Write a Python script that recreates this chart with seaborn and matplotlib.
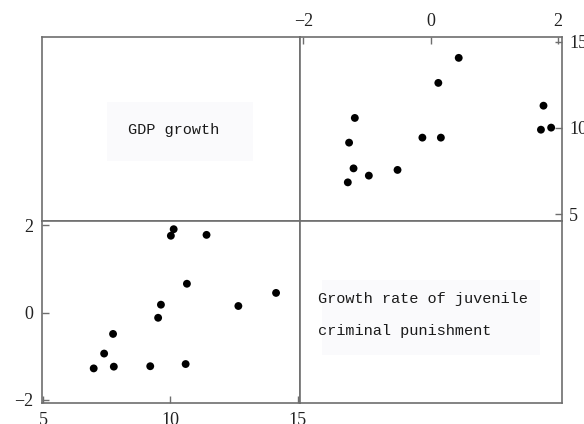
import matplotlib
matplotlib.use("Agg")
import matplotlib.pyplot as plt
import seaborn as sns
import pandas as pd
from matplotlib.patches import Rectangle

# Upper-right panel: juvenile punishment growth (x) vs GDP growth (y)
juv_upper = [0.44, 0.12, -1.19, -1.28, -1.21, -0.97, -1.30, -0.52, -0.13, 0.16, 1.77, 1.73, 1.89]
gdp_upper = [14.06, 12.61, 10.58, 9.15, 7.66, 7.24, 6.85, 7.57, 9.44, 9.44, 11.29, 9.90, 10.02]

# Lower-left panel: GDP growth (x) vs juvenile punishment growth (y)
gdp_lower = [10.13, 10.02, 11.42, 10.65, 14.15, 12.67, 9.63, 9.52, 7.75, 7.40, 6.99, 7.78, 9.21, 10.60]
juv_lower = [1.91, 1.76, 1.78, 0.66, 0.45, 0.15, 0.18, -0.12, -0.49, -0.94, -1.28, -1.24, -1.23, -1.18]

gdp_ticks = [5, 10, 15]
juv_ticks = [-2, 0, 2]

label_gdp = "GDP growth"
label_juv = ["Growth rate of juvenile", "criminal punishment"]

sns.set_theme(style="white")
plt.rcParams["axes.unicode_minus"] = True

frame_col = "#6e6e6e"
tick_font = {"family": "Liberation Serif", "size": 13}
mono = "Liberation Mono"
cell_fill = "#fafafc"

fig = plt.figure(figsize=(5.84, 4.24), dpi=100)
fig.patch.set_facecolor("white")

L, M, R = 0.0719, 0.5137, 0.9623
B, H, T = 0.0488, 0.4795, 0.912
ax_tl = fig.add_axes([L, H, M - L, T - H])
ax_tr = fig.add_axes([M, H, R - M, T - H])
ax_bl = fig.add_axes([L, B, M - L, H - B])
ax_br = fig.add_axes([M, B, R - M, H - B])

for ax in (ax_tl, ax_tr, ax_bl, ax_br):
    ax.set_facecolor("white")
    for s in ax.spines.values():
        s.set_visible(True)
        s.set_color(frame_col)
        s.set_linewidth(1.2)

for ax in (ax_tl, ax_br):
    ax.set_xticks([])
    ax.set_yticks([])

df_up = pd.DataFrame({"juv": juv_upper, "gdp": gdp_upper})
df_lo = pd.DataFrame({"gdp": gdp_lower, "juv": juv_lower})

sns.scatterplot(data=df_up, x="juv", y="gdp", ax=ax_tr, color="black",
                s=32, edgecolor="none", linewidth=0)
sns.scatterplot(data=df_lo, x="gdp", y="juv", ax=ax_bl, color="black",
                s=32, edgecolor="none", linewidth=0)

ax_tr.set_xlim(-2.05, 2.06)
ax_tr.set_ylim(4.63, 15.25)
ax_tr.set_xticks(juv_ticks)
ax_tr.set_yticks(gdp_ticks)
ax_tr.xaxis.tick_top()
ax_tr.yaxis.tick_right()
ax_tr.tick_params(axis="both", direction="in", length=5, width=1, color=frame_col,
                  pad=5, top=True, right=True, bottom=False, left=False,
                  labeltop=True, labelright=True, labelbottom=False, labelleft=False)

ax_bl.set_xlim(4.96, 15.09)
ax_bl.set_ylim(-2.08, 2.105)
ax_bl.set_xticks(gdp_ticks)
ax_bl.set_yticks(juv_ticks)
ax_bl.tick_params(axis="both", direction="in", length=5, width=1, color=frame_col,
                  pad=6, bottom=True, left=True, top=False, right=False)

for ax in (ax_tr, ax_bl):
    ax.set_xlabel("")
    ax.set_ylabel("")
    for lab in ax.get_xticklabels() + ax.get_yticklabels():
        lab.set_fontfamily(tick_font["family"])
        lab.set_fontsize(tick_font["size"])
        lab.set_color("#222222")

# Diagonal name cells
ax_tl.add_patch(Rectangle((0.251, 0.326), 0.567, 0.323, transform=ax_tl.transAxes,
                          facecolor=cell_fill, edgecolor="none", zorder=0))
ax_tl.text(0.512, 0.495, label_gdp, transform=ax_tl.transAxes, ha="center", va="center",
           fontfamily=mono, fontsize=11, color="#1a1a1a")

ax_br.add_patch(Rectangle((0.085, 0.265), 0.83, 0.41, transform=ax_br.transAxes,
                          facecolor=cell_fill, edgecolor="none", zorder=0))
ax_br.text(0.069, 0.570, label_juv[0], transform=ax_br.transAxes, ha="left", va="center",
           fontfamily=mono, fontsize=11, color="#1a1a1a")
ax_br.text(0.069, 0.396, label_juv[1], transform=ax_br.transAxes, ha="left", va="center",
           fontfamily=mono, fontsize=11, color="#1a1a1a")

fig.savefig("out.png", dpi=100)
